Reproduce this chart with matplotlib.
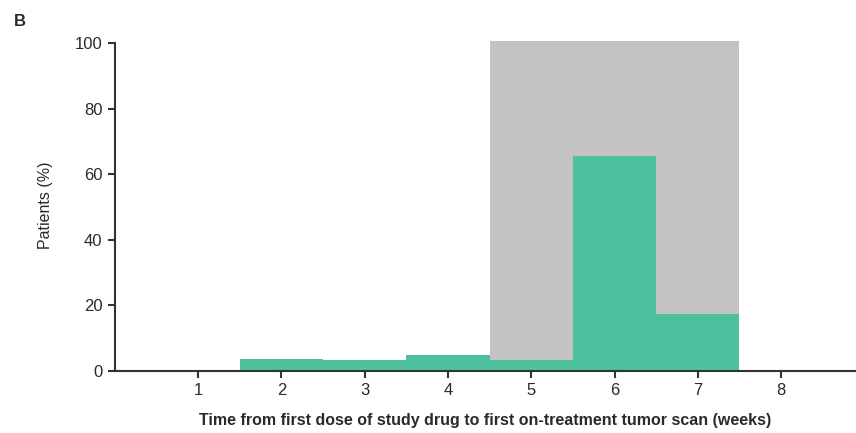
import matplotlib
matplotlib.use("Agg")
import matplotlib.pyplot as plt
from matplotlib.patches import Rectangle

plt.rcParams['font.family'] = ['Liberation Sans', 'DejaVu Sans']

weeks = [2, 3, 4, 5, 6, 7]
patients = [3.6, 3.2, 4.9, 3.5, 65.5, 17.5]
window_start, window_end = 4.5, 7.5
xticks = [1, 2, 3, 4, 5, 6, 7, 8]
yticks = [0, 20, 40, 60, 80, 100]

green = '#4EC09E'
gray = '#C4C2C3'
dark = '#333333'
text_color = '#2a2a2a'

fig = plt.figure(figsize=(8.56, 4.33), dpi=100)
ax = fig.add_axes([0.1343, 0.1432, 1 - 0.1343, 0.9083 - 0.1432])

ax.add_patch(Rectangle((window_start, 0), window_end - window_start, 100.6,
                       facecolor=gray, edgecolor='none', zorder=1))
ax.bar(weeks, patients, width=1.0, color=green, edgecolor='none', zorder=2)

ax.set_xlim(0, 8.9)
ax.set_ylim(0, 101)
ax.set_xticks(xticks)
ax.set_yticks(yticks)
for s in ['top', 'right']:
    ax.spines[s].set_visible(False)
for s in ['left', 'bottom']:
    ax.spines[s].set_color(dark)
    ax.spines[s].set_linewidth(1.5)
ax.spines['left'].set_bounds(0, 100)
ax.tick_params(axis='both', direction='out', length=5, width=1.5, color=dark,
               labelsize=12, labelcolor=text_color, pad=4)

ax.set_xlabel('Time from first dose of study drug to first on-treatment tumor scan (weeks)',
              fontsize=11.5, fontweight='bold', color=text_color)
ax.set_ylabel('Patients (%)', fontsize=11.5, color=text_color)
ax.xaxis.set_label_coords(0.5, -0.128)
ax.yaxis.set_label_coords(-0.083, 0.5)

fig.text(14 / 856, 1 - 21 / 433, 'B', fontsize=12, fontweight='bold', va='center', ha='left',
         color=text_color)

fig.savefig('out.png', dpi=100)
